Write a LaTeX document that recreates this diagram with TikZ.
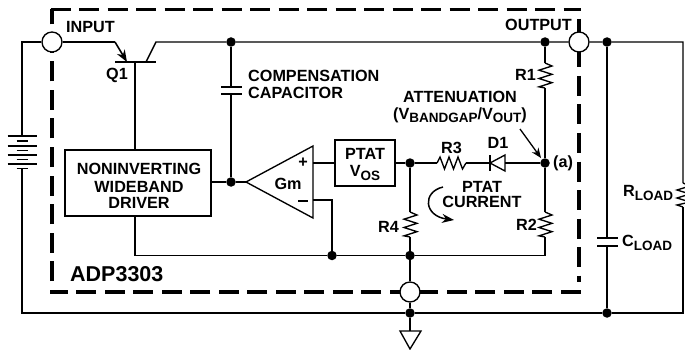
\documentclass[tikz,border=0pt]{standalone}
\usepackage{fontspec}
\setmainfont{Liberation Sans}
\usetikzlibrary{arrows.meta}
\newcommand{\subs}[1]{\raisebox{-3.2pt}{\fontsize{13.5}{15}\selectfont #1}}
\tikzset{
  wire/.style={line width=1.35pt,line join=miter},
  dot/.style={circle,fill=black,inner sep=0pt,minimum size=9.5pt},
  port/.style={circle,draw=black,fill=white,line width=1.35pt,inner sep=0pt,minimum size=20pt},
  block/.style={draw=black,fill=white,line width=1.35pt,align=center,inner sep=0pt},
  lbl/.style={font=\fontsize{16.2}{18}\selectfont\bfseries,inner sep=0pt,align=center},
  pkg/.style={line width=3.2pt,dash pattern=on 20pt off 8.5pt},
  res/.style={line width=1.35pt,line join=miter}
}
\newcommand{\vres}[3]{% x, y0 , y1
  \draw[res] (#1,#2) -- ++(7,3) -- ++(-13,4.17) -- ++(13,4.17) -- ++(-13,4.17) -- ++(13,4.17) -- ++(-13,4.17) -- (#1,#3);
}
\begin{document}
\begin{tikzpicture}[x=1pt,y=-1pt]
\useasboundingbox (0,0) rectangle (685,350);
% package outline
\draw[pkg] (50.5,9.5) -- (580.5,9.5);
\draw[pkg,dash phase=19pt] (579,9.5) -- (579,282);
\draw[pkg] (580.5,292) -- (52,292);
\draw[pkg,dash phase=16pt] (52,293.5) -- (52,9.5);
% named points
\node[port] (in) at (52,42) {};
\node[port] (out) at (579,42) {};
\node[port] (gndport) at (410,292) {};
\node[block,minimum width=146pt,minimum height=66pt] (drv) at (138,183) {};
\node[lbl] at (139,168.5) {NONINVERTING};
\node[lbl] at (139,187) {WIDEBAND};
\node[lbl] at (139,203) {DRIVER};
\node[block,minimum width=60pt,minimum height=46pt] (ptat) at (365,163) {};
\node[lbl] at (365,153.5) {PTAT};
\node[lbl] at (365,173) {V\subs{OS}};
\node[dot] (d1) at (231,42) {};
\node[dot] (d2) at (545,42) {};
\node[dot] (d3) at (607,42) {};
\node[dot] (d4) at (231,182) {};
\node[dot] (d5) at (410,163) {};
\node[dot] (d6) at (545,163) {};
\node[dot] (d7) at (332,255.5) {};
\node[dot] (d8) at (410,255.5) {};
\node[dot] (d9) at (410,313) {};
\node[dot] (d10) at (607,313) {};
% supply rails
\draw[wire] (in) -- (115,42);
\draw[-{Stealth[length=12pt,width=9pt]},line width=1.6pt] (115,42) -- (127,62);
\draw[wire] (115,62) -- (156,62);
\draw[wire] (146,62) -- (156,42) -- (d1) -- (d2) -- (out) -- (d3) -- (683,42) -- (683,183);
\draw[wire] (135,62) -- (135,150);
\draw[wire] (in) -- (22,42) -- (22,136);
\draw[wire] (22,168) -- (22,313) -- (d9) -- (d10) -- (683,313) -- (683,207);
% battery
\foreach \y in {136,146,155,164}{\draw[wire] (7.5,\y) -- (36.5,\y);}
\foreach \y in {141,150.5,159.5,168.5}{\draw[wire] (16.5,\y) -- (27.5,\y);}
% load
\draw[res] (683,183) -- (690,186) -- (677,190) -- (690,194) -- (677,198) -- (690,202) -- (677,205) -- (683,207);
\draw[wire] (d3) -- (607,238); \draw[wire] (607,246) -- (d10);
\draw[wire] (597,238) -- (618,238); \draw[wire] (597,246) -- (618,246);
% compensation
\draw[wire] (d1) -- (231,87); \draw[wire] (231,94) -- (d4);
\draw[wire] (221,87) -- (242,87); \draw[wire] (221,94) -- (242,94);
\draw[wire] (drv.east |- d4) -- (d4) -- (246,182);
% amp
\draw[wire] (246,182) -- (313,146) -- (313,218) -- cycle;
\node[lbl] at (303,163) {+};
\draw[line width=1.35pt] (298,201) -- (308,201);
\node[lbl] at (288,184) {Gm};
\draw[wire] (313,163) -- (ptat.west);
\draw[wire] (ptat.east) -- (d5);
\draw[wire] (313,200) -- (332,200) -- (d7);
% bottom rail
\draw[wire] (135,216) -- (135,255.5) -- (d7) -- (d8) -- (545,255.5) -- (545,237);
\draw[wire] (d2) -- (545,63); \draw[wire] (545,88) -- (d6) -- (545,212);
\vres{545}{63}{88}
\vres{545}{212}{237}
\draw[wire] (d5) -- (410,212); \draw[wire] (410,237) -- (d8);
\vres{410}{212}{237}
\draw[wire] (d8) -- (gndport) -- (d9) -- (410,331);
\draw[wire] (400,331) -- (421,331) -- (410,349) -- cycle;
% R3 D1
\draw[wire] (d5) -- (437,163);
\draw[res] (437,163) -- (440,157) -- (444.5,169) -- (449,157) -- (453.5,169) -- (458,157) -- (462.5,169) -- (466,163);
\draw[wire] (466,163) -- (490,163); \draw[wire] (505,163) -- (d6);
\draw[wire] (490,155) -- (490,171);
\draw[wire] (490,163) -- (505,155) -- (505,171) -- cycle;
% arrows
\draw[-{Stealth[length=10pt,width=8pt]},line width=1.3pt] (520,129) -- (541,158);
\draw[-{Stealth[length=12pt,width=9pt]},line width=1.5pt] (443,187) .. controls (422,192) and (424,216) .. (454,220);
% labels
\node[lbl,anchor=west] at (66,27) {INPUT};
\node[lbl,anchor=east] at (572,24.5) {OUTPUT};
\node[lbl] at (117,75) {Q1};
\node[lbl,anchor=west] at (248,75.5) {COMPENSATION};
\node[lbl,anchor=west] at (248,92.5) {CAPACITOR};
\node[lbl] at (460,97) {ATTENUATION};
\node[lbl] at (460,115.5) {(V\subs{BANDGAP}/V\subs{OUT})};
\node[lbl] at (451.5,148) {R3};
\node[lbl] at (498,143) {D1};
\node[lbl,anchor=east] at (536,75) {R1};
\node[lbl,anchor=east] at (537,225) {R2};
\node[lbl,anchor=east] at (399,227) {R4};
\node[lbl] at (563,163) {(a)};
\node[lbl] at (482,187) {PTAT};
\node[lbl] at (482,202) {CURRENT};
\node[font=\fontsize{21.5}{24}\selectfont\bfseries,inner sep=0pt,anchor=west] at (70,274) {ADP3303};
\node[lbl,anchor=west] at (623,193) {R\subs{LOAD}};
\node[lbl,anchor=west] at (622,243) {C\subs{LOAD}};
\end{tikzpicture}
\end{document}
